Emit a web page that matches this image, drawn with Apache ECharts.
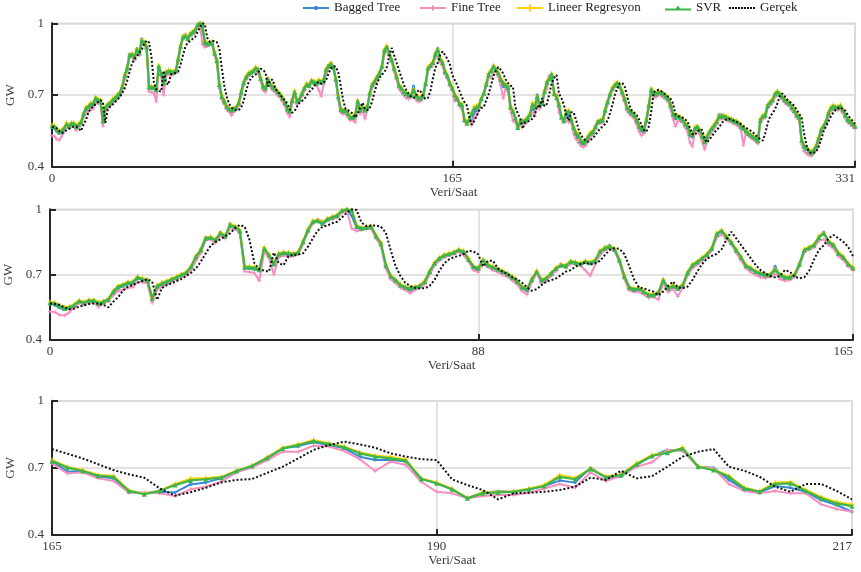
<!DOCTYPE html>
<html>
<head>
<meta charset="utf-8">
<script src="https://cdn.jsdelivr.net/npm/echarts@6/dist/echarts.min.js"></script>
<style>
  html, body { margin: 0; padding: 0; background: #fff; }
  #chart { width: 861px; height: 572px; }
</style>
</head>
<body>
<div id="chart"></div>
<script>
// Hourly load (GW) for samples 0..331: measured values and four model predictions.

const baggedTree = [
  // 0-55
  0.565,0.560,0.548,0.540,0.545,0.556,0.575,0.568,0.578,0.578,
  0.565,0.572,0.582,0.615,0.638,0.648,0.658,0.660,0.684,0.676,
  0.671,0.598,0.640,0.652,0.662,0.674,0.684,0.695,0.706,0.732,
  0.778,0.818,0.872,0.872,0.852,0.895,0.872,0.935,0.915,0.898,
  0.730,0.728,0.726,0.718,0.812,0.785,0.745,0.790,0.796,0.794,
  0.792,0.798,0.846,0.900,0.940,0.945,
  // 56-110
  0.930,0.950,0.958,0.966,0.988,0.996,0.970,0.915,0.908,0.912,
  0.915,0.872,0.838,0.735,0.688,0.668,0.645,0.635,0.628,0.637,
  0.645,0.663,0.708,0.746,0.770,0.785,0.790,0.798,0.808,0.800,
  0.765,0.730,0.722,0.760,0.740,0.730,0.720,0.708,0.698,0.682,
  0.662,0.636,0.628,0.672,0.708,0.670,0.680,0.702,0.724,0.740,
  0.736,0.755,0.750,0.745,0.755,
  // 111-164
  0.750,0.760,0.810,0.826,0.835,0.818,0.762,0.688,0.632,0.628,
  0.630,0.618,0.603,0.603,0.612,0.670,0.633,0.644,0.632,0.648,
  0.705,0.740,0.754,0.770,0.790,0.818,0.884,0.898,0.870,0.843,
  0.808,0.775,0.736,0.724,0.710,0.702,0.694,0.695,0.738,0.695,
  0.684,0.684,0.695,0.744,0.808,0.820,0.833,0.875,0.896,0.846,
  0.830,0.793,0.775,0.744,
  // 165-217
  0.730,0.683,0.686,0.661,0.653,0.593,0.586,0.593,0.590,0.626,
  0.635,0.653,0.686,0.705,0.742,0.787,0.797,0.814,0.802,0.787,
  0.750,0.735,0.735,0.730,0.653,0.631,0.604,0.564,0.590,0.596,
  0.593,0.604,0.619,0.643,0.634,0.701,0.656,0.661,0.713,0.753,
  0.780,0.780,0.705,0.701,0.646,0.604,0.590,0.619,0.611,0.593,
  0.556,0.534,0.504,
  // 218-331
  0.500,0.495,0.503,0.520,0.535,0.543,0.563,0.584,0.590,0.592,
  0.633,0.667,0.700,0.724,0.738,0.747,0.733,0.709,0.680,0.640,
  0.628,0.620,0.612,0.592,0.566,0.550,0.545,0.590,0.652,0.720,
  0.702,0.700,0.710,0.706,0.700,0.692,0.680,0.650,0.612,0.600,
  0.605,0.600,0.592,0.575,0.563,0.530,0.525,0.556,0.563,0.549,
  0.520,0.500,0.520,0.542,0.556,0.570,0.585,0.620,0.618,0.612,
  0.603,0.597,0.594,0.589,0.585,0.578,0.566,0.556,0.546,0.536,
  0.528,0.520,0.512,0.505,0.600,0.608,0.612,0.650,0.665,0.676,
  0.700,0.710,0.700,0.690,0.676,0.668,0.660,0.640,0.630,0.612,
  0.603,0.505,0.482,0.472,0.462,0.455,0.465,0.482,0.514,0.550,
  0.566,0.585,0.620,0.640,0.650,0.645,0.645,0.650,0.634,0.612,
  0.594,0.585,0.575,0.565
];

const fineTree = [
  // 0-55
  0.530,0.528,0.515,0.512,0.528,0.548,0.570,0.562,0.572,0.570,
  0.552,0.568,0.578,0.605,0.625,0.630,0.640,0.642,0.668,0.665,
  0.660,0.570,0.630,0.645,0.655,0.668,0.678,0.690,0.698,0.722,
  0.765,0.800,0.858,0.862,0.845,0.880,0.865,0.915,0.910,0.890,
  0.715,0.712,0.708,0.672,0.805,0.778,0.700,0.780,0.788,0.782,
  0.785,0.792,0.840,0.895,0.935,0.955,
  // 56-110
  0.945,0.950,0.955,0.962,0.985,0.992,0.912,0.900,0.905,0.910,
  0.912,0.865,0.830,0.728,0.680,0.660,0.640,0.630,0.615,0.630,
  0.640,0.655,0.700,0.742,0.765,0.780,0.788,0.795,0.805,0.790,
  0.760,0.720,0.712,0.755,0.735,0.720,0.712,0.700,0.690,0.672,
  0.655,0.625,0.608,0.665,0.705,0.660,0.672,0.695,0.718,0.750,
  0.732,0.748,0.752,0.742,0.720,
  // 111-164
  0.695,0.745,0.790,0.812,0.822,0.808,0.755,0.680,0.628,0.620,
  0.622,0.608,0.594,0.598,0.585,0.662,0.620,0.635,0.600,0.640,
  0.695,0.730,0.745,0.765,0.782,0.812,0.870,0.885,0.865,0.838,
  0.800,0.765,0.728,0.712,0.698,0.688,0.684,0.690,0.705,0.680,
  0.672,0.675,0.690,0.738,0.805,0.815,0.825,0.855,0.862,0.836,
  0.820,0.785,0.768,0.738,
  // 165-217
  0.720,0.675,0.680,0.653,0.641,0.589,0.590,0.586,0.574,0.604,
  0.616,0.638,0.680,0.701,0.735,0.772,0.772,0.799,0.795,0.775,
  0.739,0.686,0.728,0.713,0.638,0.593,0.586,0.564,0.574,0.579,
  0.579,0.589,0.608,0.628,0.611,0.680,0.641,0.665,0.705,0.725,
  0.780,0.775,0.705,0.698,0.628,0.597,0.586,0.597,0.586,0.586,
  0.537,0.516,0.504,
  // 218-331
  0.488,0.482,0.490,0.510,0.525,0.535,0.555,0.578,0.582,0.585,
  0.625,0.660,0.692,0.718,0.735,0.742,0.728,0.700,0.672,0.635,
  0.620,0.612,0.600,0.575,0.548,0.530,0.540,0.585,0.645,0.712,
  0.688,0.692,0.702,0.698,0.690,0.682,0.670,0.640,0.600,0.568,
  0.590,0.590,0.585,0.565,0.545,0.500,0.485,0.545,0.555,0.535,
  0.505,0.472,0.505,0.530,0.548,0.562,0.578,0.600,0.600,0.602,
  0.596,0.590,0.586,0.580,0.576,0.570,0.555,0.490,0.540,0.530,
  0.522,0.515,0.506,0.496,0.585,0.600,0.605,0.645,0.658,0.668,
  0.690,0.705,0.695,0.682,0.668,0.660,0.652,0.636,0.622,0.605,
  0.595,0.495,0.465,0.455,0.448,0.445,0.455,0.472,0.505,0.540,
  0.556,0.575,0.610,0.630,0.640,0.636,0.636,0.640,0.625,0.604,
  0.585,0.578,0.568,0.560
];

const lineerRegresyon = [
  // 0-55
  0.575,0.572,0.560,0.550,0.554,0.565,0.583,0.575,0.585,0.585,
  0.573,0.580,0.591,0.626,0.649,0.656,0.667,0.669,0.692,0.683,
  0.679,0.596,0.652,0.664,0.672,0.683,0.692,0.703,0.713,0.741,
  0.787,0.817,0.871,0.874,0.863,0.894,0.881,0.932,0.924,0.906,
  0.738,0.738,0.735,0.726,0.825,0.794,0.753,0.799,0.804,0.802,
  0.799,0.806,0.855,0.909,0.947,0.952,
  // 56-110
  0.940,0.959,0.967,0.975,0.997,1.000,0.997,0.927,0.917,0.921,
  0.924,0.881,0.848,0.748,0.698,0.679,0.656,0.646,0.641,0.646,
  0.653,0.672,0.718,0.756,0.779,0.793,0.799,0.806,0.817,0.810,
  0.774,0.741,0.733,0.771,0.748,0.738,0.729,0.718,0.707,0.692,
  0.672,0.646,0.637,0.683,0.718,0.679,0.687,0.710,0.733,0.748,
  0.744,0.764,0.759,0.753,0.764,
  // 111-164
  0.759,0.768,0.810,0.825,0.833,0.820,0.771,0.698,0.646,0.637,
  0.640,0.626,0.611,0.611,0.621,0.679,0.641,0.652,0.641,0.656,
  0.713,0.748,0.762,0.779,0.797,0.825,0.891,0.906,0.878,0.852,
  0.817,0.784,0.745,0.733,0.718,0.710,0.703,0.703,0.726,0.703,
  0.692,0.692,0.703,0.753,0.817,0.828,0.840,0.875,0.894,0.855,
  0.840,0.802,0.784,0.753,
  // 165-217
  0.735,0.705,0.690,0.668,0.665,0.600,0.583,0.598,0.628,0.652,
  0.655,0.660,0.688,0.710,0.748,0.790,0.805,0.825,0.810,0.795,
  0.770,0.755,0.748,0.738,0.652,0.635,0.607,0.566,0.590,0.593,
  0.596,0.608,0.624,0.668,0.655,0.697,0.662,0.672,0.720,0.758,
  0.770,0.790,0.707,0.693,0.665,0.612,0.596,0.634,0.637,0.602,
  0.570,0.547,0.536,
  // 218-331
  0.513,0.505,0.513,0.530,0.544,0.551,0.572,0.593,0.597,0.600,
  0.642,0.676,0.708,0.732,0.746,0.755,0.742,0.718,0.690,0.653,
  0.639,0.630,0.621,0.600,0.574,0.565,0.558,0.600,0.662,0.728,
  0.711,0.708,0.718,0.714,0.708,0.700,0.690,0.662,0.625,0.616,
  0.614,0.609,0.600,0.583,0.572,0.544,0.537,0.565,0.572,0.558,
  0.533,0.509,0.530,0.551,0.565,0.579,0.593,0.614,0.616,0.616,
  0.611,0.605,0.602,0.597,0.593,0.586,0.574,0.565,0.555,0.544,
  0.537,0.530,0.523,0.513,0.600,0.616,0.621,0.660,0.674,0.684,
  0.708,0.718,0.708,0.697,0.684,0.676,0.669,0.653,0.639,0.621,
  0.611,0.516,0.491,0.481,0.471,0.463,0.474,0.491,0.523,0.558,
  0.574,0.593,0.628,0.649,0.658,0.653,0.653,0.658,0.642,0.621,
  0.602,0.593,0.583,0.574
];

const svr = [
  // 0-55
  0.571,0.568,0.556,0.545,0.550,0.561,0.579,0.571,0.581,0.581,
  0.569,0.576,0.587,0.622,0.645,0.652,0.663,0.665,0.688,0.679,
  0.675,0.591,0.648,0.660,0.668,0.679,0.688,0.699,0.709,0.737,
  0.783,0.813,0.867,0.870,0.859,0.890,0.877,0.928,0.920,0.902,
  0.734,0.734,0.731,0.722,0.821,0.790,0.749,0.795,0.800,0.798,
  0.795,0.802,0.851,0.905,0.943,0.948,
  // 56-110
  0.936,0.955,0.963,0.971,0.994,1.000,0.994,0.923,0.913,0.917,
  0.920,0.877,0.844,0.744,0.694,0.675,0.652,0.642,0.637,0.642,
  0.649,0.668,0.714,0.752,0.775,0.789,0.795,0.802,0.813,0.806,
  0.770,0.737,0.729,0.767,0.744,0.734,0.725,0.714,0.703,0.688,
  0.668,0.642,0.633,0.679,0.714,0.675,0.683,0.706,0.729,0.744,
  0.740,0.760,0.755,0.749,0.760,
  // 111-165
  0.755,0.764,0.806,0.821,0.829,0.816,0.767,0.694,0.642,0.633,
  0.636,0.622,0.607,0.607,0.617,0.675,0.637,0.648,0.637,0.652,
  0.709,0.744,0.758,0.775,0.793,0.821,0.887,0.902,0.874,0.848,
  0.813,0.780,0.741,0.729,0.714,0.706,0.699,0.699,0.722,0.699,
  0.688,0.688,0.699,0.749,0.813,0.824,0.836,0.871,0.890,0.851,
  0.836,0.798,0.780,0.749,0.730,
  // 166-217
  0.701,0.686,0.665,0.659,0.597,0.582,0.597,0.623,0.644,0.649,
  0.656,0.686,0.708,0.745,0.787,0.802,0.820,0.806,0.792,0.765,
  0.750,0.742,0.732,0.650,0.631,0.604,0.564,0.586,0.590,0.593,
  0.604,0.619,0.660,0.649,0.695,0.658,0.668,0.716,0.753,0.768,
  0.787,0.705,0.690,0.660,0.608,0.593,0.628,0.631,0.597,0.564,
  0.541,0.529,
  // 218-331
  0.509,0.501,0.509,0.526,0.540,0.547,0.568,0.589,0.593,0.596,
  0.638,0.672,0.704,0.728,0.742,0.751,0.738,0.714,0.686,0.649,
  0.635,0.626,0.617,0.596,0.570,0.561,0.554,0.596,0.658,0.724,
  0.707,0.704,0.714,0.710,0.704,0.696,0.686,0.658,0.621,0.612,
  0.610,0.605,0.596,0.579,0.568,0.540,0.533,0.561,0.568,0.554,
  0.529,0.505,0.526,0.547,0.561,0.575,0.589,0.610,0.612,0.612,
  0.607,0.601,0.598,0.593,0.589,0.582,0.570,0.561,0.551,0.540,
  0.533,0.526,0.519,0.509,0.596,0.612,0.617,0.656,0.670,0.680,
  0.704,0.714,0.704,0.693,0.680,0.672,0.665,0.649,0.635,0.617,
  0.607,0.512,0.487,0.477,0.467,0.459,0.470,0.487,0.519,0.554,
  0.570,0.589,0.624,0.645,0.654,0.649,0.649,0.654,0.638,0.617,
  0.598,0.589,0.579,0.570
];

const gercek = [
  // 0-55
  0.568,0.565,0.561,0.550,0.541,0.544,0.553,0.559,0.565,0.568,
  0.568,0.561,0.550,0.576,0.596,0.627,0.645,0.652,0.663,0.671,
  0.679,0.668,0.584,0.639,0.652,0.660,0.671,0.680,0.694,0.709,
  0.729,0.760,0.798,0.832,0.851,0.862,0.877,0.890,0.913,0.928,
  0.920,0.859,0.752,0.725,0.718,0.714,0.801,0.752,0.744,0.786,
  0.790,0.793,0.798,0.828,0.867,0.902,
  // 56-110
  0.920,0.926,0.936,0.943,0.963,0.985,1.000,0.997,0.939,0.923,
  0.926,0.926,0.920,0.893,0.813,0.740,0.694,0.663,0.648,0.640,
  0.637,0.637,0.648,0.675,0.717,0.752,0.770,0.780,0.786,0.795,
  0.810,0.806,0.793,0.737,0.764,0.764,0.729,0.714,0.703,0.688,
  0.679,0.663,0.642,0.626,0.633,0.652,0.668,0.675,0.683,0.698,
  0.714,0.721,0.737,0.749,0.755,
  // 111-165
  0.747,0.752,0.763,0.790,0.813,0.821,0.818,0.795,0.740,0.679,
  0.642,0.637,0.629,0.622,0.606,0.622,0.648,0.668,0.642,0.637,
  0.645,0.675,0.714,0.749,0.773,0.786,0.795,0.816,0.862,0.897,
  0.867,0.836,0.806,0.775,0.744,0.721,0.706,0.694,0.688,0.694,
  0.721,0.714,0.691,0.683,0.688,0.718,0.770,0.813,0.835,0.867,
  0.882,0.867,0.851,0.828,0.784,
  // 166-217
  0.763,0.742,0.716,0.690,0.671,0.656,0.608,0.576,0.591,0.611,
  0.635,0.646,0.650,0.678,0.705,0.742,0.780,0.802,0.817,0.805,
  0.790,0.765,0.750,0.739,0.735,0.649,0.623,0.601,0.559,0.586,
  0.589,0.593,0.601,0.616,0.656,0.646,0.687,0.653,0.663,0.705,
  0.750,0.772,0.784,0.705,0.687,0.660,0.616,0.593,0.628,0.628,
  0.597,0.559,
  // 218-331
  0.533,0.519,0.509,0.505,0.512,0.519,0.533,0.547,0.561,0.568,
  0.579,0.593,0.624,0.658,0.700,0.728,0.749,0.751,0.738,0.700,
  0.658,0.635,0.626,0.617,0.598,0.575,0.554,0.547,0.568,0.631,
  0.710,0.721,0.721,0.717,0.710,0.700,0.693,0.684,0.665,0.621,
  0.612,0.610,0.605,0.598,0.589,0.561,0.537,0.533,0.547,0.557,
  0.554,0.519,0.501,0.515,0.526,0.543,0.554,0.565,0.582,0.593,
  0.598,0.601,0.598,0.593,0.589,0.584,0.579,0.570,0.565,0.557,
  0.551,0.543,0.533,0.523,0.515,0.509,0.540,0.582,0.610,0.624,
  0.640,0.665,0.696,0.707,0.696,0.682,0.672,0.665,0.654,0.638,
  0.621,0.607,0.540,0.491,0.463,0.456,0.459,0.463,0.484,0.512,
  0.547,0.568,0.589,0.610,0.626,0.638,0.645,0.649,0.640,0.635,
  0.617,0.603,0.593,0.579
];

// Sample windows shown in the three panels and their tick labels
const panelRanges = [[0, 331], [0, 165], [165, 217]];
const xTickValues = [[0, 165, 331], [0, 88, 165], [165, 190, 217]];
const yTickValues = [0.4, 0.7, 1];

const seriesNames = ['Bagged Tree', 'Fine Tree', 'Lineer Regresyon', 'SVR', 'Gerçek'];
const seriesValues = [baggedTree, fineTree, lineerRegresyon, svr, gercek];

// ---- styling ----
const FONT = '"Liberation Serif", "Times New Roman", serif';
const AXIS_COLOR = '#262626';
const GRID_COLOR = '#dadada';
const TEXT_COLOR = '#3a3a3a';
const PLUS = 'path://M4,0H6V4H10V6H6V10H4V6H0V4H4Z';

// legend icons: a short line with the series marker in the middle
const DOTS = 'path://' + [0, 3, 6, 9, 12, 15, 18, 21, 24]
  .map(x => `M${x},0H${x + 2}V2H${x}Z`).join(' ');
const looks = {
  'Bagged Tree':      { color: '#3a87d6', symbol: 'circle',   size: 3, width: 2,
                        icon: 'path://M0,2H26V4H0Z M11.5,1H14.5V5H11.5Z', iconH: 4 },
  'Fine Tree':        { color: '#f48fc0', symbol: PLUS,       size: 4, width: 2,
                        icon: 'path://M0,2H26V4H0Z M12,0.5H14V5.5H12Z', iconH: 5 },
  'Lineer Regresyon': { color: '#ffd400', symbol: PLUS,       size: 5, width: 2,
                        icon: 'path://M0,2.5H26V4.5H0Z M12,0H14V7H12Z', iconH: 7 },
  'SVR':              { color: '#3db54a', symbol: 'triangle', size: 5, width: 2.2,
                        icon: 'path://M0,3H26V5H0Z M13,0L16.5,5H9.5Z', iconH: 5 },
  'Gerçek':           { color: '#111111', symbol: 'none',     size: 0, width: 2, type: [2, 2],
                        icon: DOTS, iconH: 2 }
};

const grids = [
  { left: 52, top: 23.3,  width: 803, height: 143.5 },
  { left: 50, top: 209.3, width: 803, height: 130.7 },
  { left: 52, top: 400.7, width: 800, height: 134.3 }
];
const xNameGap = [19, 16, 17];

function points(values, from, to) {
  const out = [];
  for (let i = from; i <= to; i++) out.push([i, values[i]]);
  return out;
}

const xAxes = panelRanges.map(([a, b], k) => ({
  type: 'value', gridIndex: k, min: a, max: b,
  axisLine: { show: true, onZero: false, lineStyle: { color: AXIS_COLOR, width: 2 } },
  axisTick: { show: true, inside: true, length: 6, customValues: xTickValues[k],
              lineStyle: { color: AXIS_COLOR, width: 2 } },
  axisLabel: { customValues: xTickValues[k], margin: 5, fontFamily: FONT, fontSize: 13,
               color: TEXT_COLOR, alignMaxLabel: 'right' },
  splitLine: { show: true, lineStyle: { color: GRID_COLOR, width: 1.5 } },
  name: 'Veri/Saat', nameLocation: 'middle', nameGap: xNameGap[k],
  nameTextStyle: { fontFamily: FONT, fontSize: 13, color: TEXT_COLOR }
}));

const yAxes = panelRanges.map((r, k) => ({
  type: 'value', gridIndex: k, min: 0.4, max: 1,
  axisLine: { show: true, onZero: false, lineStyle: { color: AXIS_COLOR, width: 2 } },
  axisTick: { show: true, inside: true, length: 6, customValues: yTickValues,
              lineStyle: { color: AXIS_COLOR, width: 2 } },
  axisLabel: { customValues: yTickValues, margin: 8, fontFamily: FONT, fontSize: 13, color: TEXT_COLOR },
  splitLine: { show: true, lineStyle: { color: GRID_COLOR, width: 1.5 } },
  name: 'GW', nameLocation: 'middle', nameGap: 32, nameRotate: 90,
  nameTextStyle: { fontFamily: FONT, fontSize: 13, color: TEXT_COLOR }
}));

const series = [];
panelRanges.forEach(([a, b], k) => {
  seriesNames.forEach((name, s) => {
    const st = looks[name];
    series.push({
      type: 'line', name, xAxisIndex: k, yAxisIndex: k,
      data: points(seriesValues[s], a, b),
      symbol: st.symbol, symbolSize: st.size, showAllSymbol: true,
      lineStyle: { color: st.color, width: st.width, type: st.type || 'solid' },
      itemStyle: { color: st.color },
      z: 2 + s,
      animation: false
    });
  });
});

// One legend entry per series, spread across the top edge
const legendLeft = [303, 420, 517, 665, 729];
const legends = seriesNames.map((name, s) => ({
  data: [{ name, icon: looks[name].icon }],
  left: legendLeft[s], top: 1.5, padding: 0,
  itemWidth: 26, itemHeight: looks[name].iconH, itemGap: 0,
  itemStyle: { color: looks[name].color, borderWidth: 0 },
  textStyle: { fontFamily: FONT, fontSize: 13, color: '#222', padding: [0, 0, 7, 0] }
}));

const chart = echarts.init(document.getElementById('chart'), null, { renderer: 'canvas' });
chart.setOption({
  backgroundColor: '#ffffff',
  animation: false,
  grid: grids.map(g => Object.assign({ show: true, borderColor: GRID_COLOR, borderWidth: 1.5,
                                       backgroundColor: 'transparent', containLabel: false,
                                       outerBoundsMode: 'none' }, g)),
  legend: legends,
  xAxis: xAxes,
  yAxis: yAxes,
  series
});
</script>
</body>
</html>
